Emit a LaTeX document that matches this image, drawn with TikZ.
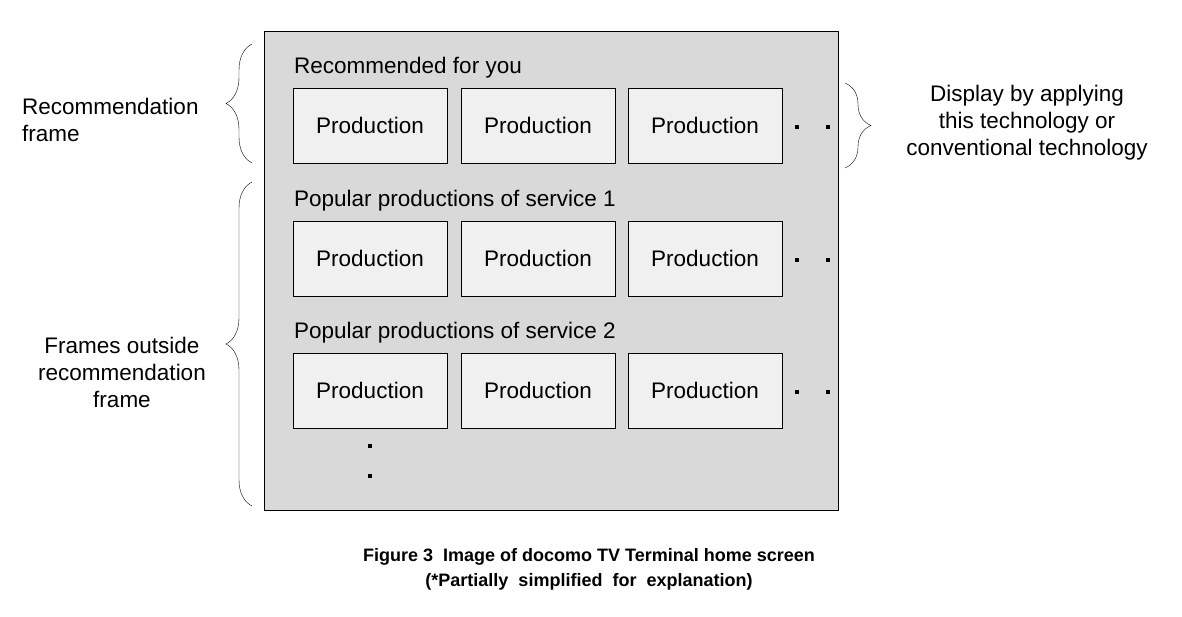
\documentclass[tikz,border=0pt]{standalone}
\usepackage{fontspec}
\setmainfont{Liberation Sans}
\usetikzlibrary{decorations.pathreplacing}
\begin{document}
\begin{tikzpicture}[x=1pt,y=-1pt,font=\fontsize{22.5}{27}\selectfont]
            \tikzset{dot/.style={fill,inner sep=0pt,minimum size=3.5pt}}
            \useasboundingbox (0,0) rectangle (1182,617);
            \draw[fill=black!15] (264,31) rectangle (838,510);
            \begin{scope}[every node/.style={draw=black,fill=black!6,minimum width=154pt,minimum height=75pt,inner sep=0pt}]
                \node (p11) at (370,125.5) {Production};
                \node (p12) at (538,125.5) {Production};
                \node (p13) at (705,125.5) {Production};
                \node (p21) at (370,258.5) {Production};
                \node (p22) at (538,258.5) {Production};
                \node (p23) at (705,258.5) {Production};
                \node (p31) at (370,390.5) {Production};
                \node (p32) at (538,390.5) {Production};
                \node (p33) at (705,390.5) {Production};
            \end{scope}
            \begin{scope}[every node/.style={anchor=west,inner sep=0pt}]
                \node (t1) at (294,68) {Recommended for you};
                \node (t2) at (294,201) {Popular productions of service 1};
                \node (t3) at (294,333) {Popular productions of service 2};
            \end{scope}
            \foreach \r/\y in {1/127,2/260,3/392} {
                \node[dot] (da\r) at (797,\y) {};
                \node[dot] (db\r) at (828,\y) {};
            }
            \node[dot] (dv1) at (370,446) {};
            \node[dot] (dv2) at (370,476) {};
            \draw[decorate,decoration={brace,amplitude=26pt}] (252,163) -- (252,44);
            \draw[decorate,decoration={brace,amplitude=26pt}] (252,506) -- (252,182);
            \draw[decorate,decoration={brace,amplitude=26pt}] (845,83) -- (845,168);
            \node[align=left,anchor=west,inner sep=0pt] (lrec) at (22,120) {Recommendation\\frame};
            \node[align=center] (lout) at (122,372) {Frames outside\\recommendation\\frame};
            \node[align=center] (ldisp) at (1027,123) {Display by applying\\this technology or\\conventional technology};
            \node[align=center,font=\bfseries\fontsize{18}{25}\selectfont] (cap) at (589,569) {Figure 3\ \ Image of docomo TV Terminal home screen\\(*Partially\ \ simplified\ \ for\ \ explanation)};
        \end{tikzpicture}
\end{document}
